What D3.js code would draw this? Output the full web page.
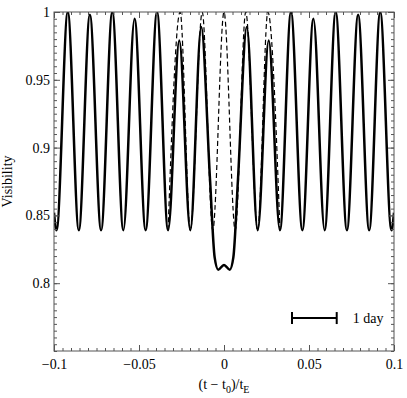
<!DOCTYPE html>
<html lang="en">
<head>
<meta charset="utf-8">
<style>
  body { margin: 0; background: #fff; }
  text { font-family: "Liberation Serif", "Times New Roman", serif; }
</style>
<script src="https://d3js.org/d3.v7.min.js"></script>
</head>
<body>
<svg width="407" height="398"></svg>
<script>
// solid curve: extrema, plus a few points on the central dip
var solidT = [-0.1, -0.0985, -0.0919, -0.0854, -0.0789, -0.0723, -0.0657, -0.0592, -0.0526, -0.0461,
              -0.0394, -0.0329, -0.0263, -0.0198, -0.0134, -0.0082, -0.0055, -0.0034, 0,
              0.0034, 0.0055, 0.0082, 0.0134, 0.0198, 0.0263, 0.0329, 0.0394,
              0.0461, 0.0526, 0.0592, 0.0657, 0.0723, 0.0789, 0.0854, 0.0919, 0.0985, 0.1];
var solidV = [0.852, 0.839, 1.0, 0.839, 0.998, 0.839, 1.0, 0.839, 0.995, 0.839,
              1.0, 0.839, 0.979, 0.839, 0.989, 0.876, 0.819, 0.810, 0.8135,
              0.810, 0.819, 0.876, 0.989, 0.839, 0.979, 0.839, 1.0,
              0.839, 0.995, 0.839, 1.0, 0.839, 0.998, 0.839, 1.0, 0.839, 0.852];

// dashed curve (only differs from the solid one near the centre)
var dashedT = [-0.0329, -0.0258, -0.0198, -0.0128, -0.0066, 0, 0.0066, 0.0128, 0.0198, 0.0258, 0.0329];
var dashedV = [0.839, 1.0, 0.839, 1.0, 0.839, 1.0, 0.839, 1.0, 0.839, 1.0, 0.839];

var xTicks = [-0.1, -0.05, 0, 0.05, 0.1];
var yTicks = [0.8, 0.85, 0.9, 0.95, 1];

// scale bar: 1 day in units of t_E
var barStart = 0.04, barLength = 0.0263, barLevel = 0.7743, barLabel = "1 day";

var serif = "'Liberation Serif', 'Times New Roman', serif";

var svg = d3.select("svg"),
    margin = {top: 12, right: 13, bottom: 47, left: 54},
    width = 407 - margin.left - margin.right,
    height = 398 - margin.top - margin.bottom;

var x = d3.scaleLinear().domain([-0.1, 0.1]).range([0, width]),
    y = d3.scaleLinear().domain([0.75, 1]).range([height, 0]);

var g = svg.append("g")
    .attr("transform", "translate(" + margin.left + "," + margin.top + ")")
    .attr("font-family", serif);

svg.append("defs").append("clipPath").attr("id", "clip")
  .append("rect").attr("width", width).attr("height", height);

var line = d3.line()
    .x(function(d) { return x(d[0]); })
    .y(function(d) { return y(d[1]); })
    .curve(d3.curveMonotoneX);

var plot = g.append("g").attr("clip-path", "url(#clip)");

plot.append("path")
    .datum(d3.zip(dashedT, dashedV))
    .attr("fill", "none")
    .attr("stroke", "#000")
    .attr("stroke-width", 1.2)
    .attr("stroke-dasharray", "5,3")
    .attr("d", line);

plot.append("path")
    .datum(d3.zip(solidT, solidV))
    .attr("fill", "none")
    .attr("stroke", "#000")
    .attr("stroke-width", 2.5)
    .attr("d", line);

// axes, ticks pointing inward on all four sides
function styleAxis(sel) {
  sel.attr("font-family", serif).attr("font-size", 14);
  sel.select(".domain").remove();
  sel.selectAll(".tick line").attr("stroke", "#555");
  sel.selectAll(".tick text").attr("fill", "#000");
}
var fmt = d3.format("~g");

g.append("g").attr("transform", "translate(0," + height + ")")
  .call(d3.axisBottom(x).tickValues(x.ticks(40)).tickSize(-3).tickFormat("")).call(styleAxis);
g.append("g").attr("transform", "translate(0," + height + ")")
  .call(d3.axisBottom(x).tickValues(xTicks).tickSize(-6).tickPadding(8).tickFormat(fmt)).call(styleAxis);
g.append("g")
  .call(d3.axisTop(x).tickValues(x.ticks(40)).tickSize(-3).tickFormat("")).call(styleAxis);
g.append("g")
  .call(d3.axisTop(x).tickValues(xTicks).tickSize(-6).tickFormat("")).call(styleAxis);

g.append("g")
  .call(d3.axisLeft(y).tickValues(y.ticks(50)).tickSize(-3).tickFormat("")).call(styleAxis);
g.append("g")
  .call(d3.axisLeft(y).tickValues(yTicks).tickSize(-6).tickPadding(4).tickFormat(fmt)).call(styleAxis);
g.append("g").attr("transform", "translate(" + width + ",0)")
  .call(d3.axisRight(y).tickValues(y.ticks(50)).tickSize(-3).tickFormat("")).call(styleAxis);
g.append("g").attr("transform", "translate(" + width + ",0)")
  .call(d3.axisRight(y).tickValues(yTicks).tickSize(-6).tickFormat("")).call(styleAxis);

g.append("rect")
    .attr("width", width).attr("height", height)
    .attr("fill", "none").attr("stroke", "#555").attr("stroke-width", 1);

// scale bar
var bar = g.append("g").attr("stroke", "#000").attr("stroke-width", 2);
bar.append("line")
    .attr("x1", x(barStart)).attr("x2", x(barStart + barLength))
    .attr("y1", y(barLevel)).attr("y2", y(barLevel));
[barStart, barStart + barLength].forEach(function(t) {
  bar.append("line")
      .attr("x1", x(t)).attr("x2", x(t))
      .attr("y1", y(barLevel) - 6).attr("y2", y(barLevel) + 6);
});
g.append("text")
    .attr("x", x(barStart + barLength) + 16)
    .attr("y", y(barLevel) + 5)
    .attr("font-size", 14)
    .text(barLabel);

// axis titles
var xl = g.append("text")
    .attr("x", width / 2).attr("y", height + 38)
    .attr("text-anchor", "middle")
    .attr("font-size", 14);
xl.append("tspan").text("(t \u2212 t");
xl.append("tspan").attr("dy", 4).attr("font-size", 10).text("0");
xl.append("tspan").attr("dy", -4).text(")/t");
xl.append("tspan").attr("dy", 4).attr("font-size", 10).text("E");

g.append("text")
    .attr("transform", "translate(-42," + (height / 2) + ") rotate(-90)")
    .attr("text-anchor", "middle")
    .attr("font-size", 14)
    .text("Visibility");
</script>
</body>
</html>
